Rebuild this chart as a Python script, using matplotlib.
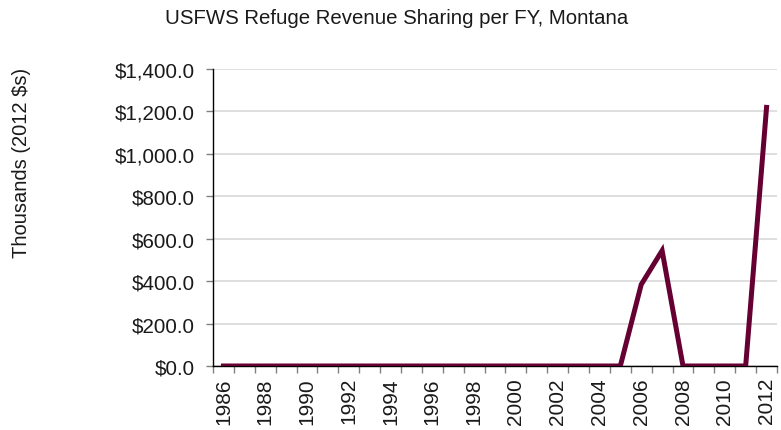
import matplotlib
matplotlib.use("Agg")
import matplotlib.pyplot as plt
from matplotlib.ticker import FuncFormatter, FixedLocator

plt.rcParams['font.family'] = ['Liberation Sans', 'DejaVu Sans']

years = list(range(1986, 2013))
values = [0.0] * 20 + [384.0, 544.0, 0.0, 0.0, 0.0, 0.0, 1219.0]
y_ticks = [0, 200, 400, 600, 800, 1000, 1200, 1400]
title = "USFWS Refuge Revenue Sharing per FY, Montana"
ylabel = "Thousands (2012 $s)"

fig = plt.figure(figsize=(7.81, 4.31), dpi=100)
ax = fig.add_axes([213/781, 1-367/431, (777-213)/781, (367-70)/431])

x = list(range(len(years)))
ax.plot(x, values, color='#660033', linewidth=3.6, solid_joinstyle='miter', zorder=3)

ax.set_xlim(-0.5, len(years) - 0.5)
ax.set_ylim(0, 1400)
ax.set_yticks(y_ticks)
ax.yaxis.set_major_formatter(FuncFormatter(lambda v, p: f"${v:,.1f}"))
ax.grid(axis='y', color='#dcdcdc', linewidth=1.3, zorder=0)
ax.set_axisbelow(True)

# label positions every 2 years (centered), ticks at category boundaries
ax.set_xticks([i for i, yv in enumerate(years) if (yv - 1986) % 2 == 0])
ax.set_xticklabels([str(yv) for yv in years if (yv - 1986) % 2 == 0], rotation=90)
ax.tick_params(axis='x', which='major', length=0, labelsize=15, pad=8, labelcolor='#1a1a1a')
ax.xaxis.set_minor_locator(FixedLocator([i - 0.5 for i in range(len(years) + 1)]))
ax.tick_params(axis='x', which='minor', length=5, width=1, color='#808080')
ax.tick_params(axis='y', length=5, width=1, color='#808080', labelsize=14.8, pad=8, labelcolor='#1a1a1a')

for s in ['top', 'right']:
    ax.spines[s].set_visible(False)
ax.spines['left'].set_color('black')
ax.spines['bottom'].set_color('black')
ax.spines['left'].set_linewidth(1)
ax.spines['bottom'].set_linewidth(1)

fig.text(397/781, 1-18/431, title, ha='center', va='center', fontsize=14.7, color='#1a1a1a')
fig.text(22/781, 1-163/431, ylabel, ha='center', va='center', rotation=90, fontsize=14.5, color='#1a1a1a')

fig.savefig("out.png", dpi=100)
